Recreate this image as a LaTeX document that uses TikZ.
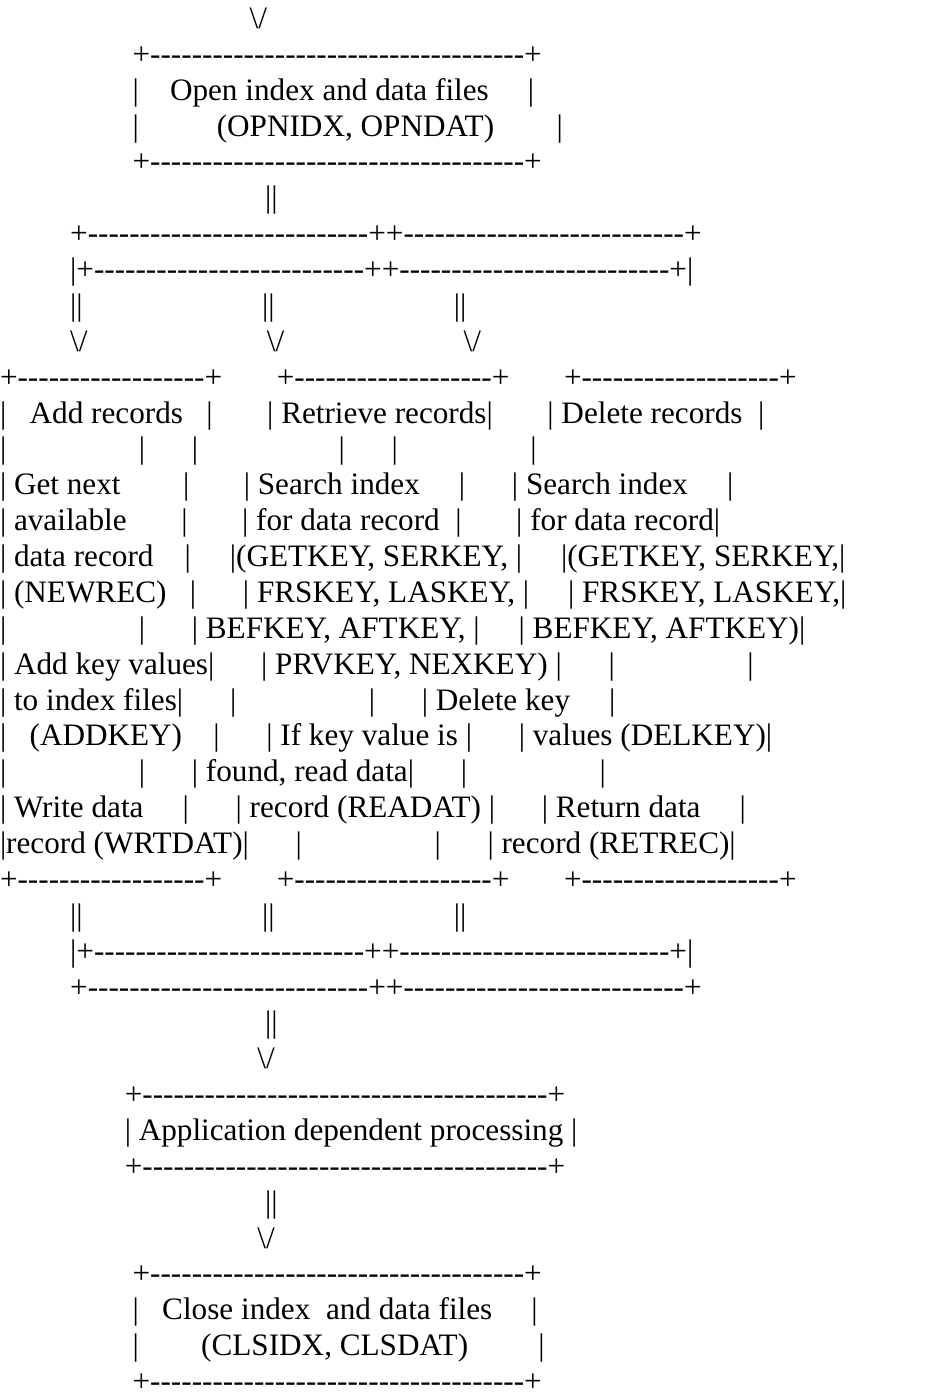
\documentclass[tikz,border=0pt]{standalone}
\usepackage{fontspec}
\newfontfamily\asc{Liberation Serif}
\newcommand\SP[1]{\kern#1\fontdimen2\font\relax}
\newcount\dacnt
\newcommand\DA[1]{\dacnt=#1\relax\loop\ifnum\dacnt>0 -\advance\dacnt by -1 \repeat}
\newcommand\BS{\textbackslash/}
\tikzset{ln/.style={anchor=base west, inner sep=0pt, outer sep=0pt,
  font=\asc\fontsize{31.2pt}{35.87pt}\selectfont, text=black}}
\newcommand\Ln[2]{\node[ln] (l#1) at (0,{-(28.5+(#1-1)*35.87)}) {#2};}
\begin{document}
\begin{tikzpicture}[x=1pt,y=1pt]
\fill[white] (0,0) rectangle (941,-1399);
\path[use as bounding box] (0,0) rectangle (941,-1399);
\Ln{1}{\SP{32}\BS}
\Ln{2}{\SP{17}+\DA{36}+}
\Ln{3}{\SP{17}|\SP{4}Open index and data files\SP{5}|}
\Ln{4}{\SP{17}|\SP{10}(OPNIDX, OPNDAT)\SP{8}|}
\Ln{5}{\SP{17}+\DA{36}+}
\Ln{6}{\SP{34}||}
\Ln{7}{\SP{9}+\DA{27}++\DA{27}+}
\Ln{8}{\SP{9}|+\DA{26}++\DA{26}+|}
\Ln{9}{\SP{9}||\SP{23}||\SP{23}||}
\Ln{10}{\SP{9}\BS\SP{23}\BS\SP{23}\BS}
\Ln{11}{+\DA{18}+\SP{7}+\DA{19}+\SP{7}+\DA{19}+}
\Ln{12}{|\SP{3}Add records\SP{3}|\SP{7}|\SP{1}Retrieve records|\SP{7}|\SP{1}Delete records\SP{2}|}
\Ln{13}{|\SP{17}|\SP{6}|\SP{18}|\SP{6}|\SP{17}|}
\Ln{14}{|\SP{1}Get next\SP{8}|\SP{7}|\SP{1}Search index\SP{5}|\SP{6}|\SP{1}Search index\SP{5}|}
\Ln{15}{|\SP{1}available\SP{7}|\SP{7}|\SP{1}for data record\SP{2}|\SP{7}|\SP{1}for data record|}
\Ln{16}{|\SP{1}data record\SP{4}|\SP{5}|(GETKEY, SERKEY,\SP{1}|\SP{5}|(GETKEY, SERKEY,|}
\Ln{17}{|\SP{1}(NEWREC)\SP{3}|\SP{6}|\SP{1}FRSKEY, LASKEY,\SP{1}|\SP{5}|\SP{1}FRSKEY, LASKEY,|}
\Ln{18}{|\SP{17}|\SP{6}|\SP{1}BEFKEY, AFTKEY,\SP{1}|\SP{5}|\SP{1}BEFKEY, AFTKEY)|}
\Ln{19}{|\SP{1}Add key values|\SP{6}|\SP{1}PRVKEY, NEXKEY)\SP{1}|\SP{6}|\SP{17}|}
\Ln{20}{|\SP{1}to index files|\SP{6}|\SP{17}|\SP{6}|\SP{1}Delete key\SP{5}|}
\Ln{21}{|\SP{3}(ADDKEY)\SP{4}|\SP{6}|\SP{1}If key value is\SP{1}|\SP{6}|\SP{1}values (DELKEY)|}
\Ln{22}{|\SP{17}|\SP{6}|\SP{1}found, read data|\SP{6}|\SP{17}|}
\Ln{23}{|\SP{1}Write data\SP{5}|\SP{6}|\SP{1}record (READAT)\SP{1}|\SP{6}|\SP{1}Return data\SP{5}|}
\Ln{24}{|record (WRTDAT)|\SP{6}|\SP{17}|\SP{6}|\SP{1}record (RETREC)|}
\Ln{25}{+\DA{18}+\SP{7}+\DA{19}+\SP{7}+\DA{19}+}
\Ln{26}{\SP{9}||\SP{23}||\SP{23}||}
\Ln{27}{\SP{9}|+\DA{26}++\DA{26}+|}
\Ln{28}{\SP{9}+\DA{27}++\DA{27}+}
\Ln{29}{\SP{34}||}
\Ln{30}{\SP{33}\BS}
\Ln{31}{\SP{16}+\DA{39}+}
\Ln{32}{\SP{16}|\SP{1}Application dependent processing\SP{1}|}
\Ln{33}{\SP{16}+\DA{39}+}
\Ln{34}{\SP{34}||}
\Ln{35}{\SP{33}\BS}
\Ln{36}{\SP{17}+\DA{36}+}
\Ln{37}{\SP{17}|\SP{3}Close index\SP{2}and data files\SP{5}|}
\Ln{38}{\SP{17}|\SP{8}(CLSIDX, CLSDAT)\SP{9}|}
\Ln{39}{\SP{17}+\DA{36}+}
\end{tikzpicture}
\end{document}
